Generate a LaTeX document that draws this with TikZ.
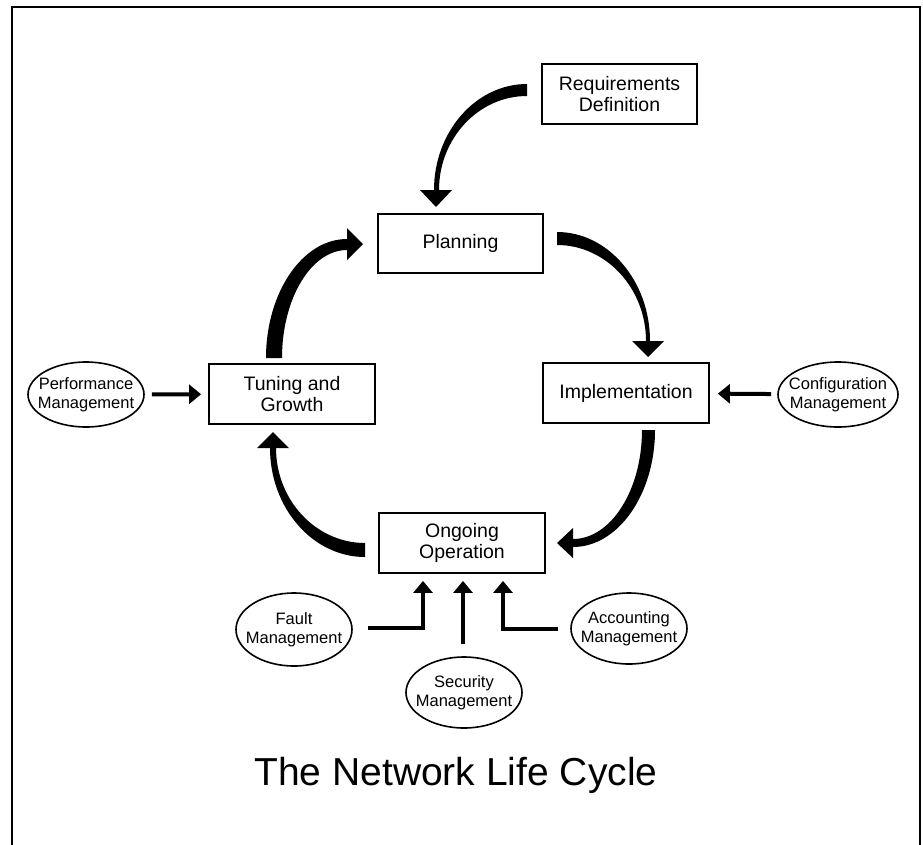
\documentclass[tikz,border=0pt]{standalone}
\usepackage{fontspec}
\setmainfont{Liberation Sans}
\usetikzlibrary{arrows.meta,calc,shapes.geometric}

% Tapered curved band: start tangent horizontal, end tangent vertical.
% #1 outer start, #2 outer end, #3 inner end, #4 inner start
\newcommand\hvband[4]{\fill (#1) .. controls ($(#1)!0.55!(#2|-#1)$) and ($(#2)!0.55!(#2|-#1)$) .. (#2)
  -- (#3) .. controls ($(#3)!0.55!(#3|-#4)$) and ($(#4)!0.55!(#3|-#4)$) .. (#4) -- cycle;}
% Tapered curved band: start tangent vertical, end tangent horizontal.
\newcommand\vhband[4]{\fill (#1) .. controls ($(#1)!0.55!(#1|-#2)$) and ($(#2)!0.55!(#1|-#2)$) .. (#2)
  -- (#3) .. controls ($(#3)!0.55!(#4|-#3)$) and ($(#4)!0.55!(#4|-#3)$) .. (#4) -- cycle;}

\tikzset{
  stage/.style={draw, line width=1.8pt, rectangle, minimum width=166pt, minimum height=60pt,
    inner sep=0pt, align=center, font=\fontsize{19.5}{21}\selectfont},
  mgmt/.style={draw, line width=1.6pt, ellipse, inner xsep=-8pt, inner ysep=0pt, align=center,
    minimum width=116pt, minimum height=70pt, font=\fontsize{16.5}{19}\selectfont},
  feed/.style={line width=4pt, line join=miter, -{Triangle[width=19pt,length=12pt]}},
}

\begin{document}
\begin{tikzpicture}[x=1pt,y=-1pt]
\useasboundingbox (0,0) rectangle (923,844);

% frame
\draw[line width=2pt] (12,850) -- (12,6.5) -- (920,6.5) -- (920,850);

% life-cycle stages
\node[stage, minimum width=155pt] (req) at (619.5,94) {Requirements\\Definition};
\node[stage, minimum width=165pt, minimum height=59pt] (plan) at (460.5,243.5) {Planning};
\node[stage] (tun) at (292,394) {Tuning and\\Growth};
\node[stage] (impl) at (626,393) {Implementation};
\node[stage] (ongo) at (462,543) {Ongoing\\Operation};

% management functions
\node[mgmt, minimum height=65pt] (perf) at (86,394.5) {Performance\\Management};
\node[mgmt, minimum width=120pt, minimum height=65pt] (conf) at (838,394.5) {Configuration\\Management};
\node[mgmt, minimum height=73pt] (fault) at (294,629.5) {Fault\\Management};
\node[mgmt, minimum height=71pt] (sec) at (464,692.5) {Security\\Management};
\node[mgmt, minimum height=71pt] (acc) at (629,628.5) {Accounting\\Management};

% Requirements Definition -> Planning
\coordinate (r1) at (527,84);  \coordinate (r2) at (434,190);
\coordinate (r3) at (439,190); \coordinate (r4) at (527,96);
\coordinate (rh) at (436,190);
\hvband{r1}{r2}{r3}{r4}
\fill (rh) ++(-16,0) -- ++(32,0) -- ++(-16,17) -- cycle;

% Planning -> Implementation
\coordinate (p1) at (557,232); \coordinate (p2) at (650,341);
\coordinate (p3) at (646,341); \coordinate (p4) at (557,245);
\coordinate (ph) at (648,341);
\hvband{p1}{p2}{p3}{p4}
\fill (ph) ++(-16,0) -- ++(32,0) -- ++(-16,16) -- cycle;

% Implementation -> Ongoing Operation
\coordinate (i1) at (655,430); \coordinate (i2) at (573,547);
\coordinate (i3) at (573,539); \coordinate (i4) at (642,430);
\coordinate (ih) at (573,543);
\vhband{i1}{i2}{i3}{i4}
\fill (ih) ++(0,-15) -- ++(0,30) -- ++(-16,-15) -- cycle;

% Ongoing Operation -> Tuning and Growth
\coordinate (o1) at (365,557); \coordinate (o2) at (270,448);
\coordinate (o3) at (276,448); \coordinate (o4) at (365,543);
\coordinate (oh) at (273,448);
\hvband{o1}{o2}{o3}{o4}
\fill (oh) ++(-16,0) -- ++(32,0) -- ++(-16,-16) -- cycle;

% Tuning and Growth -> Planning
\coordinate (t1) at (266,358); \coordinate (t2) at (347,239);
\coordinate (t3) at (347,250); \coordinate (t4) at (282,358);
\coordinate (th) at (347,244);
\vhband{t1}{t2}{t3}{t4}
\fill (th) ++(0,-16) -- ++(0,32) -- ++(16,-16) -- cycle;

% management inputs
\draw[feed, shorten <=7pt, shorten >=7pt] (perf) -- (tun);
\draw[feed, shorten <=6pt, shorten >=8pt] (conf) -- (impl);
\draw[feed] ($(fault.east)+(15,-1.5)$) -| ($(ongo.south)+(-39,7)$);
\draw[feed] ($(sec.north)+(-1,-12)$) -- ($(ongo.south)+(1,7)$);
\draw[feed] ($(acc.west)+(-12,0)$) -| ($(ongo.south)+(41,7)$);

% title
\node[font=\fontsize{39}{45}\selectfont, anchor=base] (title) at (456,785) {The Network Life Cycle};
\end{tikzpicture}
\end{document}
